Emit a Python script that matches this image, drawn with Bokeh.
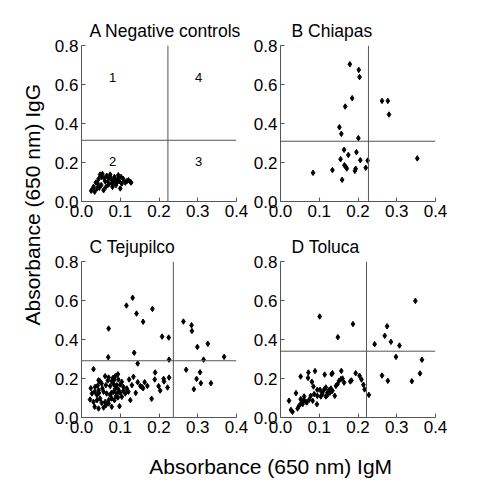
import math
from bokeh.plotting import figure
from bokeh.layouts import row, column
from bokeh.models import Range1d, FixedTicker, Label, Span, Title, PrintfTickFormatter
from bokeh.embed import file_html
from bokeh.resources import INLINE

# ---------------- data ----------------
x_ticks = [0.0, 0.1, 0.2, 0.3, 0.4]
y_ticks = [0.0, 0.2, 0.4, 0.6, 0.8]
panel_titles = ["A Negative controls", "B Chiapas", "C Tejupilco", "D Toluca"]
quadrant_labels = ["1", "2", "3", "4"]
quadrant_x = [0.08, 0.08, 0.302, 0.302]
quadrant_y = [0.636, 0.205, 0.205, 0.636]
x_title = "Absorbance (650 nm) IgM"
y_title = "Absorbance (650 nm) IgG"

# cutoffs (IgM, IgG)
cut_A = (0.223, 0.314)
cut_B = (0.227, 0.309)
cut_C = (0.237, 0.291)
cut_D = (0.222, 0.340)

A_x = [0.025, 0.028, 0.034, 0.040, 0.037, 0.044, 0.048, 0.052, 0.054, 0.059,
       0.061, 0.065, 0.068, 0.070, 0.071, 0.074, 0.077, 0.078, 0.080, 0.083,
       0.085, 0.087, 0.089, 0.091, 0.094, 0.095, 0.097, 0.100, 0.102, 0.104,
       0.108, 0.113, 0.117, 0.121, 0.126, 0.128, 0.046, 0.051, 0.057, 0.063,
       0.031, 0.042]
A_y = [0.055, 0.062, 0.050, 0.067, 0.097, 0.115, 0.138, 0.126, 0.141, 0.118,
       0.104, 0.132, 0.101, 0.087, 0.121, 0.138, 0.115, 0.092, 0.075, 0.101,
       0.126, 0.109, 0.084, 0.097, 0.118, 0.135, 0.104, 0.067, 0.126, 0.092,
       0.115, 0.097, 0.104, 0.109, 0.101, 0.097, 0.070, 0.084, 0.058, 0.075,
       0.075, 0.092]

B_x = [0.179, 0.202, 0.204, 0.185, 0.167, 0.262, 0.277, 0.280, 0.152, 0.157,
       0.201, 0.164, 0.175, 0.196, 0.155, 0.206, 0.225, 0.165, 0.169, 0.171,
       0.194, 0.192, 0.220, 0.134, 0.084, 0.159, 0.353]
B_y = [0.704, 0.675, 0.638, 0.530, 0.487, 0.516, 0.516, 0.446, 0.381, 0.347,
       0.325, 0.265, 0.239, 0.253, 0.217, 0.212, 0.210, 0.186, 0.176, 0.169,
       0.168, 0.157, 0.173, 0.161, 0.147, 0.111, 0.221]

C_x = [0.132, 0.116, 0.183, 0.142, 0.159, 0.070, 0.208, 0.225, 0.263, 0.284,
       0.285, 0.299, 0.326, 0.315, 0.368, 0.069, 0.136, 0.226, 0.145,
       0.270, 0.306, 0.297, 0.308, 0.334, 0.290,
       0.031, 0.061, 0.070, 0.081, 0.087, 0.094, 0.044, 0.048, 0.068, 0.078,
       0.084, 0.095, 0.104, 0.024, 0.035, 0.042, 0.052, 0.063, 0.074, 0.083,
       0.091, 0.100, 0.108, 0.117, 0.123, 0.134, 0.145, 0.152, 0.159, 0.163,
       0.170, 0.181, 0.189, 0.190, 0.203, 0.212, 0.213, 0.222, 0.226,
       0.027, 0.034, 0.040, 0.045, 0.057, 0.065, 0.074, 0.083, 0.091, 0.100,
       0.108, 0.121, 0.126, 0.140, 0.022, 0.031, 0.040, 0.048, 0.061, 0.070,
       0.078, 0.085, 0.094, 0.104, 0.034, 0.044, 0.057, 0.063, 0.078, 0.098,
       0.052, 0.070, 0.087, 0.095, 0.113, 0.054, 0.044, 0.077, 0.089, 0.130,
       0.156, 0.199]
C_y = [0.614, 0.574, 0.557, 0.533, 0.491, 0.456, 0.415, 0.410, 0.492, 0.473,
       0.444, 0.362, 0.378, 0.297, 0.311, 0.309, 0.332, 0.297, 0.277,
       0.245, 0.232, 0.198, 0.176, 0.176, 0.145,
       0.248, 0.212, 0.205, 0.203, 0.212, 0.222, 0.191, 0.185, 0.190, 0.186,
       0.191, 0.195, 0.183, 0.150, 0.157, 0.164, 0.174, 0.166, 0.161, 0.171,
       0.166, 0.169, 0.157, 0.149, 0.195, 0.209, 0.181, 0.161, 0.150, 0.181,
       0.162, 0.096, 0.195, 0.231, 0.138, 0.198, 0.185, 0.154, 0.205,
       0.123, 0.132, 0.115, 0.126, 0.132, 0.123, 0.115, 0.132, 0.123, 0.126,
       0.137, 0.132, 0.089, 0.126, 0.092, 0.080, 0.089, 0.097, 0.080, 0.089,
       0.097, 0.089, 0.103, 0.106, 0.055, 0.046, 0.051, 0.063, 0.055, 0.058,
       0.075, 0.072, 0.149, 0.144, 0.123, 0.149, 0.140, 0.126, 0.109, 0.166,
       0.157, 0.161]

D_x = [0.348, 0.101, 0.187, 0.148, 0.275, 0.269, 0.285, 0.243, 0.307, 0.298,
       0.365, 0.262, 0.277, 0.339, 0.360,
       0.228, 0.217, 0.214, 0.209, 0.204, 0.194, 0.180, 0.183,
       0.022, 0.027, 0.031, 0.040, 0.044, 0.048, 0.052, 0.054, 0.057, 0.059,
       0.061, 0.065, 0.068, 0.074, 0.078, 0.083, 0.087, 0.094, 0.095, 0.104,
       0.108, 0.113, 0.117, 0.121, 0.126, 0.130, 0.134, 0.140, 0.143, 0.147,
       0.151, 0.156, 0.160, 0.164, 0.052, 0.071, 0.072, 0.081, 0.085, 0.089,
       0.114, 0.132, 0.134, 0.157, 0.102, 0.108, 0.121, 0.128, 0.117, 0.095]
D_y = [0.598, 0.518, 0.479, 0.412, 0.468, 0.419, 0.388, 0.376, 0.369, 0.311,
       0.296, 0.215, 0.188, 0.186, 0.226,
       0.116, 0.144, 0.168, 0.195, 0.214, 0.227, 0.185, 0.190,
       0.086, 0.039, 0.029, 0.125, 0.046, 0.060, 0.094, 0.077, 0.068, 0.086,
       0.108, 0.082, 0.077, 0.091, 0.111, 0.086, 0.120, 0.068, 0.111, 0.108,
       0.128, 0.145, 0.154, 0.128, 0.142, 0.149, 0.137, 0.111, 0.162, 0.171,
       0.188, 0.197, 0.200, 0.179, 0.210, 0.203, 0.231, 0.183, 0.159, 0.238,
       0.220, 0.222, 0.227, 0.239, 0.142, 0.120, 0.115, 0.128, 0.108, 0.142]

FONT = "Liberation Sans"
AXIS_COLOR = "#555555"
LINE_COLOR = "#555555"


def make_panel(title, xs, ys, cut, bl, br, bt, bb, title_offset):
    p = figure(frame_width=155, frame_height=156,
               x_range=Range1d(0, 0.4), y_range=Range1d(0, 0.8),
               output_backend="svg", toolbar_location=None,
               min_border_left=bl, min_border_right=br,
               min_border_top=bt, min_border_bottom=bb,
               background_fill_color="white", border_fill_color="white")
    p.outline_line_color = None
    p.grid.visible = False
    p.title = Title(text=title, align="left", offset=title_offset, standoff=9,
                    text_font=FONT, text_font_size="17.5px", text_font_style="normal",
                    text_color="black")
    for ax, ticks in ((p.xaxis[0], x_ticks), (p.yaxis[0], y_ticks)):
        ax.ticker = FixedTicker(ticks=ticks)
        ax.formatter = PrintfTickFormatter(format="%.1f")
        ax.major_label_text_font = FONT
        ax.major_label_text_font_size = "17px"
        ax.major_label_text_color = "black"
        ax.axis_line_color = AXIS_COLOR
        ax.major_tick_line_color = AXIS_COLOR
        ax.major_tick_in = 4
        ax.major_tick_out = 0
        ax.minor_tick_line_color = None
        ax.major_label_standoff = 3
    p.add_layout(Span(location=cut[0], dimension="height", line_color=LINE_COLOR, line_width=1))
    p.add_layout(Span(location=cut[1], dimension="width", line_color=LINE_COLOR, line_width=1))
    p.scatter(xs, ys, marker="diamond", size=5.5, fill_color="black", line_color="black")
    return p


pA = make_panel(panel_titles[0], A_x, A_y, cut_A, 35, 12, 45, 21, 8)
pB = make_panel(panel_titles[1], B_x, B_y, cut_B, 32, 34, 45, 21, 11)
pC = make_panel(panel_titles[2], C_x, C_y, cut_C, 35, 12, 39, 25, 8)
pD = make_panel(panel_titles[3], D_x, D_y, cut_D, 32, 34, 39, 25, 11)

for t, qx, qy in zip(quadrant_labels, quadrant_x, quadrant_y):
    pA.add_layout(Label(x=qx, y=qy, text=t, text_font=FONT, text_font_size="13px",
                        text_align="center", text_baseline="middle", text_color="black"))


def blank(w, h):
    f = figure(width=w, height=h, x_range=Range1d(0, 1), y_range=Range1d(0, 1),
               output_backend="svg", toolbar_location=None,
               min_border=0, min_border_left=0, min_border_right=0,
               min_border_top=0, min_border_bottom=0)
    f.axis.visible = False
    f.grid.visible = False
    f.outline_line_color = None
    return f


ytf = blank(46, 442)
ytf.add_layout(Label(x=0.70, y=0.538, text=y_title, angle=math.pi / 2,
                     text_font=FONT, text_font_size="21px", text_align="center",
                     text_baseline="alphabetic", text_color="black"))

xtf = blank(423, 38)
xtf.add_layout(Label(x=0.53, y=0.36, text=x_title,
                     text_font=FONT, text_font_size="21px", text_align="center",
                     text_baseline="alphabetic", text_color="black"))

layout = row(ytf, column(row(pA, pB), row(pC, pD), xtf))

open("out.html", "w").write(file_html(layout, INLINE))
